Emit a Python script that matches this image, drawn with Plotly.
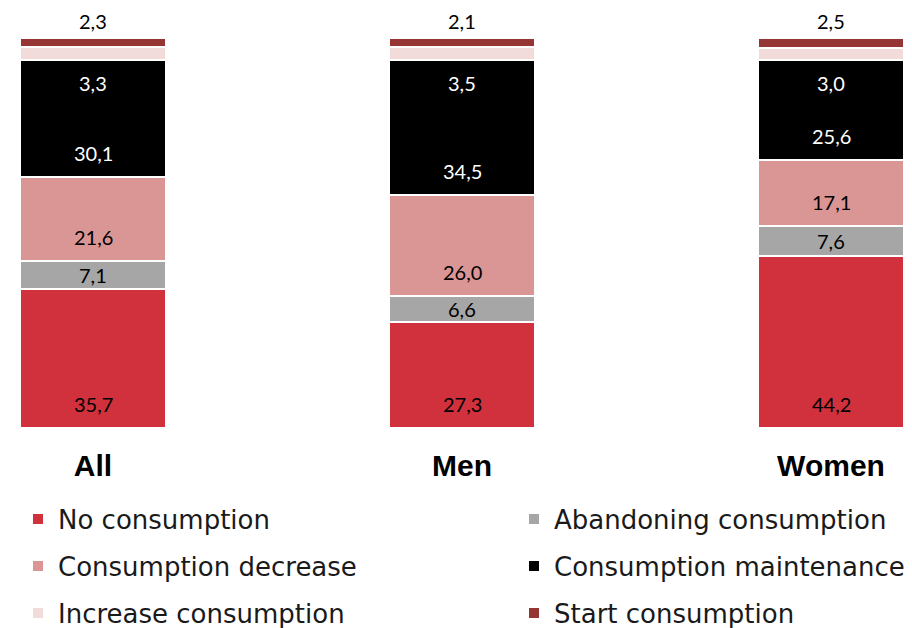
import plotly.graph_objects as go

categories = ["All", "Men", "Women"]
no_consumption = [35.7, 27.3, 44.2]
abandoning = [7.1, 6.6, 7.6]
decrease = [21.6, 26.0, 17.1]
maintenance = [30.1, 34.5, 25.6]
increase = [3.3, 3.5, 3.0]
start = [2.3, 2.1, 2.5]

series = [
    ("No consumption", no_consumption, "#D0313C", "black"),
    ("Abandoning consumption", abandoning, "#A6A6A6", "black"),
    ("Consumption decrease", decrease, "#DA9694", "black"),
    ("Consumption maintenance", maintenance, "#000000", "white"),
    ("Increase consumption", increase, "#F2DCDB", "black"),
    ("Start consumption", start, "#963634", "black"),
]

# page body has an 8px margin, so the figure is sized/positioned to compensate
OFF = 8
W, H = 912 - OFF, 628 - OFF
M_T = 38 - OFF
M_B = H - (428 - OFF)
YMAX = 100.1
PPU = (H - M_T - M_B) / YMAX
C0 = 93 - OFF
STEP = 369

fmt = lambda v: f"{v:.1f}".replace(".", ",")
NUM_FONT = dict(family="Lato", size=20)

legend_names = ["legend", "legend2", "legend3", "legend4", "legend5", "legend6"]

fig = go.Figure()
for k, (name, vals, col, tcol) in enumerate(series):
    fig.add_trace(go.Bar(
        x=categories, y=vals, name=name, legend=legend_names[k],
        marker=dict(color=col, line=dict(color="white", width=2)),
        width=0.396, showlegend=True,
    ))

annotations = []
base = [0.0, 0.0, 0.0]
for idx, (name, vals, col, tcol) in enumerate(series):
    for i, c in enumerate(categories):
        v = vals[i]
        if idx <= 3:
            annotations.append(dict(x=c, y=base[i], text=fmt(v), showarrow=False,
                                    yanchor="middle", yshift=min(24, v * PPU / 2),
                                    font=dict(color=tcol, **NUM_FONT)))
        elif idx == 4:
            annotations.append(dict(x=c, y=base[i], text=fmt(v), showarrow=False,
                                    yanchor="middle", yshift=-23,
                                    font=dict(color="white", **NUM_FONT)))
        else:
            annotations.append(dict(x=c, y=base[i] + v, text=fmt(v), showarrow=False,
                                    yanchor="middle", yshift=17,
                                    font=dict(color="black", **NUM_FONT)))
        base[i] += v

def py(pix):
    return (H - M_B - (pix - OFF)) / (H - M_T - M_B)

leg_common = dict(orientation="h", xanchor="left", yanchor="middle",
                  font=dict(family="DejaVu Sans", size=26, color="#1a1a1a"),
                  itemwidth=30, bgcolor="rgba(0,0,0,0)")

rows = [519, 566, 613]
cols = [35 - 25, 532 - 26]
legends = {}
for k, ln in enumerate(legend_names):
    r, cidx = divmod(k, 2)
    legends[ln] = dict(x=cols[cidx] / W, y=py(rows[r]), **leg_common)

fig.update_layout(
    width=W, height=H,
    margin=dict(l=0, r=0, t=M_T, b=M_B, autoexpand=False),
    barmode="stack",
    bargap=0,
    showlegend=True,
    plot_bgcolor="white", paper_bgcolor="white",
    xaxis=dict(range=[-C0 / STEP, (W - C0) / STEP], showgrid=False, showline=False,
               ticks="", tickfont=dict(family="Liberation Sans", size=30, color="black", weight="bold"),
               ticklabelstandoff=17),
    yaxis=dict(range=[0, YMAX], visible=False),
    annotations=annotations,
    **legends,
)

fig.write_html("out.html")
